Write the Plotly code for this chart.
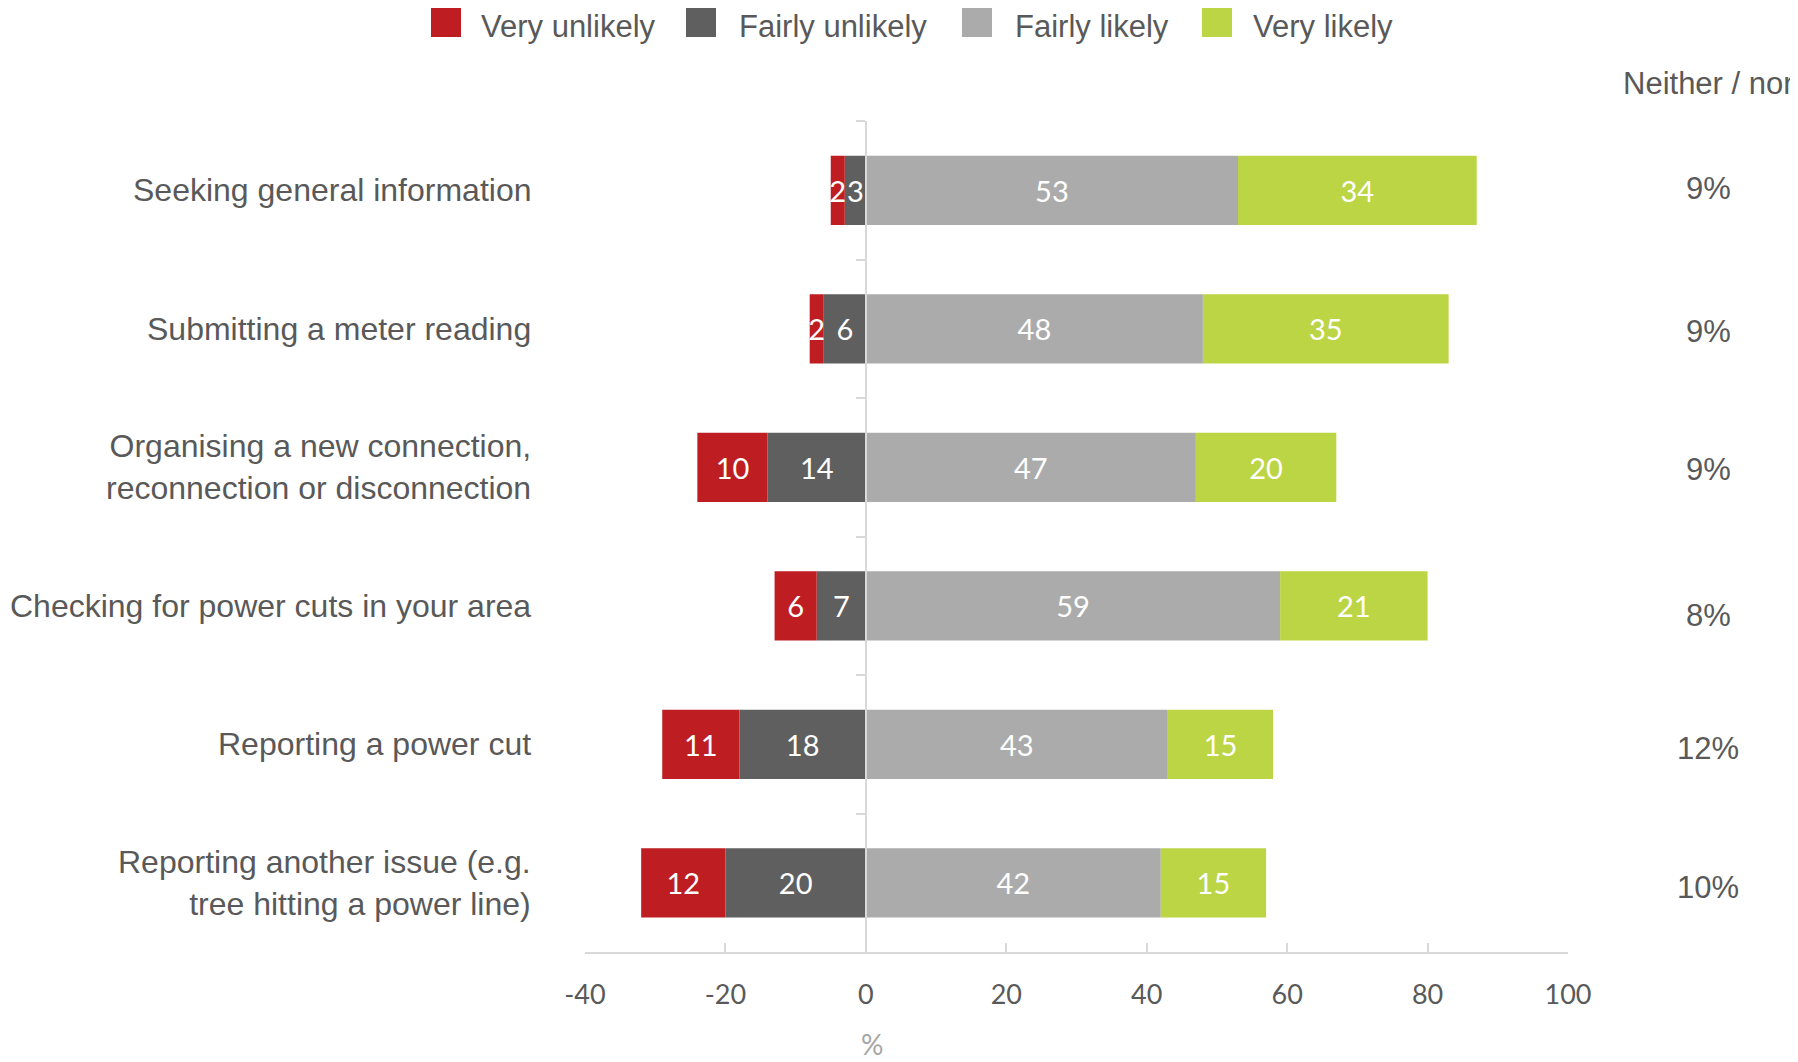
import plotly.graph_objects as go

# ---------------- data ----------------
categories = [
    "Seeking general information",
    "Submitting a meter reading",
    "Organising a new connection,<br>reconnection or disconnection",
    "Checking for power cuts in your area",
    "Reporting a power cut",
    "Reporting another issue (e.g.<br>tree hitting a power line)",
]
very_unlikely = [2, 2, 10, 6, 11, 12]
fairly_unlikely = [3, 6, 14, 7, 18, 20]
fairly_likely = [53, 48, 47, 59, 43, 42]
very_likely = [34, 35, 20, 21, 15, 15]
neither = [9, 9, 9, 8, 12, 10]

series_names = ["Very unlikely", "Fairly unlikely", "Fairly likely", "Very likely"]
tick_values = [-40, -20, 0, 20, 40, 60, 80, 100]
tick_labels = ["-40", "-20", "0", "20", "40", "60", "80", "100"]
neither_header = "Neither / nor"
axis_title = "%"

# ---------------- style ----------------
COLORS = {
    "Very unlikely": "#BE1E22",
    "Fairly unlikely": "#5F5F5F",
    "Fairly likely": "#ABABAB",
    "Very likely": "#BCD545",
}
TEXT = "#595959"
AXIS = "#D9D9D9"
SANS = "Liberation Sans, Arial, sans-serif"
CAL = "Lato, Carlito, Calibri, sans-serif"

# page body has an 8px margin: figure is drawn offset by 8px
OFF = 8
W, H = 1798 - OFF, 1062 - OFF
# plot area in screenshot pixels: x 585..1568, y 121..952
PL, PR, PT, PB = 585, 1568, 121, 952
ML, MT = PL - OFF, PT - OFF
MR, MB = W - (PR - OFF), H - (PB - OFF)
PW, PH = PR - PL, PB - PT


def px_x(px):
    return (px - PL) / PW


def px_y(py):
    return (PB - py) / PH


X_MIN, X_MAX = tick_values[0], tick_values[-1]

fig = go.Figure()

bar_common = dict(
    orientation="h",
    y=categories,
    textposition="inside",
    insidetextanchor="middle",
    textangle=0,
    constraintext="none",
    textfont=dict(family=CAL, size=29, color="white"),
    marker_line_width=0,
    showlegend=False,
    hoverinfo="x+y+name",
)

# negatives: first trace stacks nearest zero
fig.add_trace(go.Bar(name="Fairly unlikely", x=[-v for v in fairly_unlikely],
                     text=[str(v) for v in fairly_unlikely],
                     marker_color=COLORS["Fairly unlikely"], **bar_common))
fig.add_trace(go.Bar(name="Very unlikely", x=[-v for v in very_unlikely],
                     text=[str(v) for v in very_unlikely],
                     marker_color=COLORS["Very unlikely"], **bar_common))
fig.add_trace(go.Bar(name="Fairly likely", x=fairly_likely,
                     text=[str(v) for v in fairly_likely],
                     marker_color=COLORS["Fairly likely"], **bar_common))
fig.add_trace(go.Bar(name="Very likely", x=very_likely,
                     text=[str(v) for v in very_likely],
                     marker_color=COLORS["Very likely"], **bar_common))

annotations = []
shapes = []

# category labels
for c in categories:
    annotations.append(dict(
        xref="paper", x=0, xanchor="right", xshift=-52,
        yref="y", y=c, yanchor="middle",
        text=c, showarrow=False, align="right",
        font=dict(family=SANS, size=32, color=TEXT),
    ))

# neither / nor column
annotations.append(dict(
    xref="paper", x=px_x(1621), xanchor="left",
    yref="paper", y=px_y(83), yanchor="middle",
    text=neither_header, showarrow=False,
    font=dict(family=SANS, size=31, color=TEXT),
))
NEITHER_YSHIFT = [2, -3, -2, -10, -4, -5]
for c, v, ys in zip(categories, neither, NEITHER_YSHIFT):
    annotations.append(dict(
        xref="paper", x=px_x(1708), xanchor="center",
        yref="y", y=c, yanchor="middle", yshift=ys,
        text=f"{v}%", showarrow=False,
        font=dict(family=SANS, size=31, color=TEXT),
    ))

# axis title "%" (kept inside the bottom edge)
annotations.append(dict(
    xref="x", x=0, xshift=6, xanchor="center",
    yref="paper", y=px_y(1062), yanchor="bottom", borderpad=0,
    text=axis_title, showarrow=False,
    font=dict(family=CAL, size=28, color="#A6A6A6"),
))

# manual legend (large square swatches)
LEG_SQ_X = [431, 686, 962, 1202]
LEG_TX_X = [480, 738, 1014, 1252]
for name, sx, tx in zip(series_names, LEG_SQ_X, LEG_TX_X):
    shapes.append(dict(
        type="rect", xref="paper", yref="paper",
        x0=px_x(sx), x1=px_x(sx + 30), y0=px_y(37), y1=px_y(8),
        fillcolor=COLORS[name], line=dict(width=0),
    ))
    annotations.append(dict(
        xref="paper", x=px_x(tx), xanchor="left",
        yref="paper", y=px_y(OFF), yanchor="top", borderpad=0,
        text=name, showarrow=False,
        font=dict(family=SANS, size=31, color=TEXT),
    ))

fig.update_layout(
    width=W, height=H,
    margin=dict(l=ML, r=MR, t=MT, b=MB, autoexpand=False),
    paper_bgcolor="white", plot_bgcolor="white",
    barmode="relative", bargap=0.5,
    showlegend=False,
    uniformtext=dict(minsize=29, mode="show"),
    xaxis=dict(
        range=[X_MIN, X_MAX], tickmode="array",
        tickvals=tick_values, ticktext=tick_labels,
        ticks="inside", ticklen=9, tickwidth=1.5, tickcolor=AXIS,
        showline=True, linecolor=AXIS, linewidth=2,
        showgrid=False, zeroline=False,
        tickfont=dict(family=CAL, size=27, color=TEXT),
        ticklabelstandoff=18,
    ),
    yaxis=dict(
        type="category", categoryorder="array", categoryarray=categories,
        range=[len(categories) - 0.5, -0.5],
        anchor="free", position=(0 - X_MIN) / (X_MAX - X_MIN),
        showline=True, linecolor=AXIS, linewidth=2,
        ticks="outside", tickson="boundaries", ticklen=9,
        tickwidth=1.5, tickcolor=AXIS,
        showticklabels=False, showgrid=False, zeroline=False,
    ),
    annotations=annotations,
    shapes=shapes,
)

fig.write_html("out.html")
